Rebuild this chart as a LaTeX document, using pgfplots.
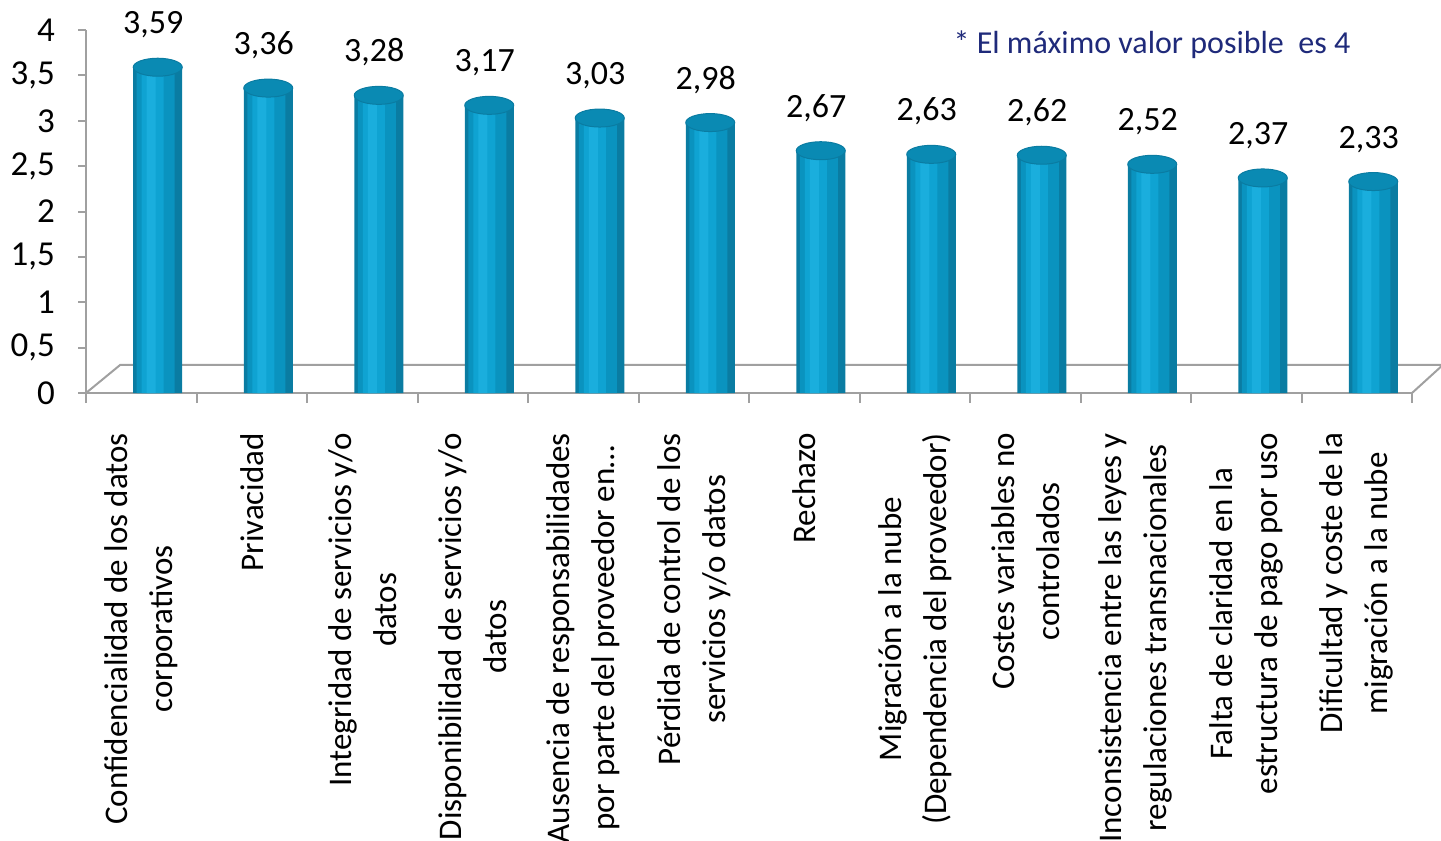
\documentclass[border=0pt]{standalone}
\usepackage{pgfplots}
\pgfplotsset{compat=1.18}
\usepackage{fontspec}
\setmainfont{Carlito}
\definecolor{barA}{HTML}{0A7CA2}
\definecolor{barB}{HTML}{0A93BF}
\definecolor{barC}{HTML}{0FA3D2}
\definecolor{barD}{HTML}{1AAEDD}
\definecolor{bartop}{HTML}{0A8AB3}
\definecolor{axgray}{HTML}{A0A0A0}
\definecolor{notecol}{HTML}{1F2A7A}
\pgfdeclareplotmark{cyltop}{%
  \pgfpathellipse{\pgfpoint{8.25pt}{0pt}}{\pgfpoint{12.25pt}{0pt}}{\pgfpoint{0pt}{4.5pt}}%
  \pgfusepathqfillstroke}
\pgfplotstableread{
x y
0 3.59
1 3.36
2 3.28
3 3.17
4 3.03
5 2.98
6 2.67
7 2.63
8 2.62
9 2.52
10 2.37
11 2.33
}\datatable
\begin{document}
\begin{tikzpicture}
\begin{axis}[
  scale only axis, width=663pt, height=181.5pt,
  xmin=-0.5, xmax=11.5, ymin=0, ymax=4,
  clip=false,
  axis lines*=left,
  axis line style={axgray, line width=1pt},
  ytick={0,0.5,...,4},
  xtick={0,...,11},
  minor xtick={-0.5,0.5,...,11.5},
  tick align=outside,
  major tick length=4pt,
  minor tick length=5pt,
  tick style={axgray, line width=1pt},
  major x tick style={draw=none},
  /pgf/number format/assume math mode=true,
  /pgf/number format/use comma,
  yticklabel style={font=\fontsize{17.5}{20}\selectfont, text=black, xshift=-8pt},
  xticklabels={{Confidencialidad de los datos\\corporativos}, {Privacidad}, {Integridad de servicios y/o\\datos}, {Disponibilidad de servicios y/o\\datos}, {Ausencia de responsabilidades\\por parte del proveedor en…}, {Pérdida de control de los\\servicios y/o datos}, {Rechazo}, {Migración a la nube\\(Dependencia del proveedor)}, {Costes variables no\\controlados}, {Inconsistencia entre las leyes y\\regulaciones transnacionales}, {Falta de claridad en la\\estructura de pago por uso}, {Dificultad y coste de la\\migración a la nube}},
  xticklabel style={font=\fontsize{16.5}{22.5}\selectfont, rotate=90, anchor=east, align=center, xshift=-12.5pt, text=black},
]
\coordinate (O) at (rel axis cs:0,0);
\draw[axgray, line width=1pt] (axis cs:-0.5,0) -- (axis cs:-0.19,0.31) -- (axis cs:11.78,0.31) -- (axis cs:11.5,0);
\addplot[ybar, bar width=24.5pt, bar shift=8.25pt, draw=none, fill=barA] table[x=x,y=y] {\datatable};
\addplot[ybar, bar width=19pt, bar shift=7.25pt, draw=none, fill=barB] table[x=x,y=y] {\datatable};
\addplot[ybar, bar width=11pt, bar shift=5.75pt, draw=none, fill=barC] table[x=x,y=y] {\datatable};
\addplot[ybar, bar width=4.5pt, bar shift=5pt, draw=none, fill=barD,
  nodes near coords={\pgfmathprintnumber[fixed,zerofill,precision=2,use comma,assume math mode=true]{\pgfplotspointmeta}},
  every node near coord/.append style={anchor=south, yshift=11pt, xshift=6pt, font=\fontsize{17}{20}\selectfont, text=black}
] table[x=x,y=y] {\datatable};
\addplot[only marks, mark=cyltop, mark options={fill=bartop, draw=barA, line width=0.5pt}] table[x=x,y=y] {\datatable};
\node[anchor=west, text=notecol, font=\fontsize{16}{19}\selectfont] at (rel axis cs:0.649,0.959) {* El máximo valor posible\ \ es 4};
\end{axis}
\pgfresetboundingbox
\path (O) ++(-43pt,-224pt) rectangle ++(720.5pt,420.5pt);
\end{tikzpicture}
\end{document}
